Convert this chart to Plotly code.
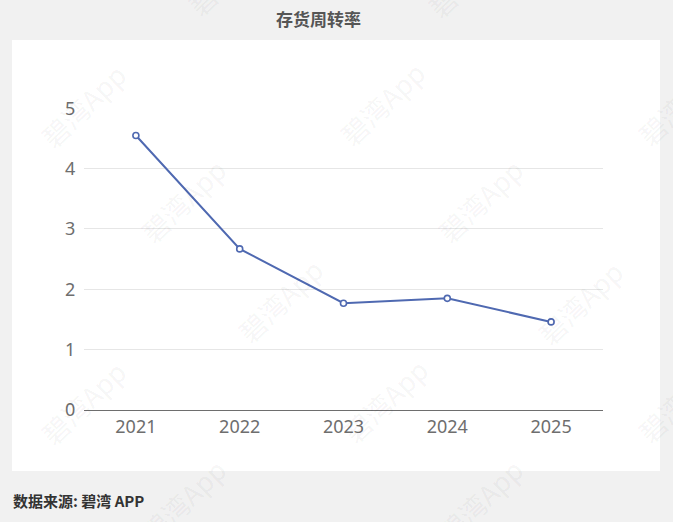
import plotly.graph_objects as go

years = ["2021", "2022", "2023", "2024", "2025"]
turnover = [4.55, 2.67, 1.77, 1.85, 1.46]
y_ticks = [0, 1, 2, 3, 4, 5]

title_text = "存货周转率"
source_text = "数据来源: 碧湾 APP"
watermark_text = "碧湾App"
watermark_pos = [(83, 105), (382, 103), (680, 103), (183, 200), (480, 200),
                 (280, 300), (580, 302), (83, 402), (385, 400), (680, 400),
                 (183, 500), (480, 500), (230, -27), (470, -25)]

W, H = 673, 522
L, R, T, B = 84, 70, 108, 112
pw, ph = W - L - R, H - T - B
line_color = "#4f69b1"


def px_x(px):
    return (px - L) / pw


def px_y(py):  # py measured from top
    return (H - py - B) / ph


fig = go.Figure()
fig.add_trace(go.Scatter(
    x=years, y=turnover, mode="lines+markers",
    line=dict(color=line_color, width=2),
    marker=dict(symbol="circle", size=6, color="white",
                line=dict(color=line_color, width=1.6)),
    hoverinfo="x+y", showlegend=False,
))

shapes = [dict(type="rect", xref="paper", yref="paper",
               x0=px_x(12), x1=px_x(660), y0=px_y(471), y1=px_y(40),
               fillcolor="white", line=dict(width=0), layer="below")]

annotations = [
    dict(text="<b>" + title_text + "</b>", x=px_x(318), y=px_y(18),
         xref="paper", yref="paper", xanchor="center", yanchor="middle",
         showarrow=False, font=dict(size=17, color="#555555", family="Noto Sans CJK SC")),
    dict(text="<b>" + source_text + "</b>", x=px_x(11), y=px_y(501),
         xref="paper", yref="paper", xanchor="left", yanchor="middle",
         showarrow=False, font=dict(size=15, color="#333333", family="Noto Sans CJK SC")),
]
for (wx, wy) in watermark_pos:
    annotations.append(dict(
        text=watermark_text, xref="paper", yref="paper",
        x=px_x(wx), y=px_y(wy), xanchor="center", yanchor="middle",
        showarrow=False, textangle=-44,
        font=dict(size=27, color="rgba(0,0,0,0.05)", family="Noto Sans CJK SC"),
    ))

fig.update_layout(
    width=W, height=H,
    margin=dict(l=L, r=R, t=T, b=B),
    paper_bgcolor="#f1f1f1", plot_bgcolor="rgba(0,0,0,0)",
    font=dict(family="Noto Sans, Noto Sans CJK SC", color="#6e6e6e", size=18),
    shapes=shapes, annotations=annotations,
    xaxis=dict(type="category", range=[-0.5, 4.5], showgrid=False,
               showline=True, linecolor="#6e6e6e", linewidth=1,
               ticks="", tickfont=dict(size=18, color="#6e6e6e"), fixedrange=True),
    yaxis=dict(range=[0, 5.005], tickvals=y_ticks, showgrid=True, gridcolor="#e6e6e6",
               gridwidth=1, zeroline=False, showline=False,
               ticks="outside", ticklen=4, tickcolor="rgba(0,0,0,0)",
               tickfont=dict(size=18, color="#6e6e6e"), fixedrange=True),
)

fig.write_html("out.html", config={"displayModeBar": False},
               post_script="document.body.style.margin='0';")
